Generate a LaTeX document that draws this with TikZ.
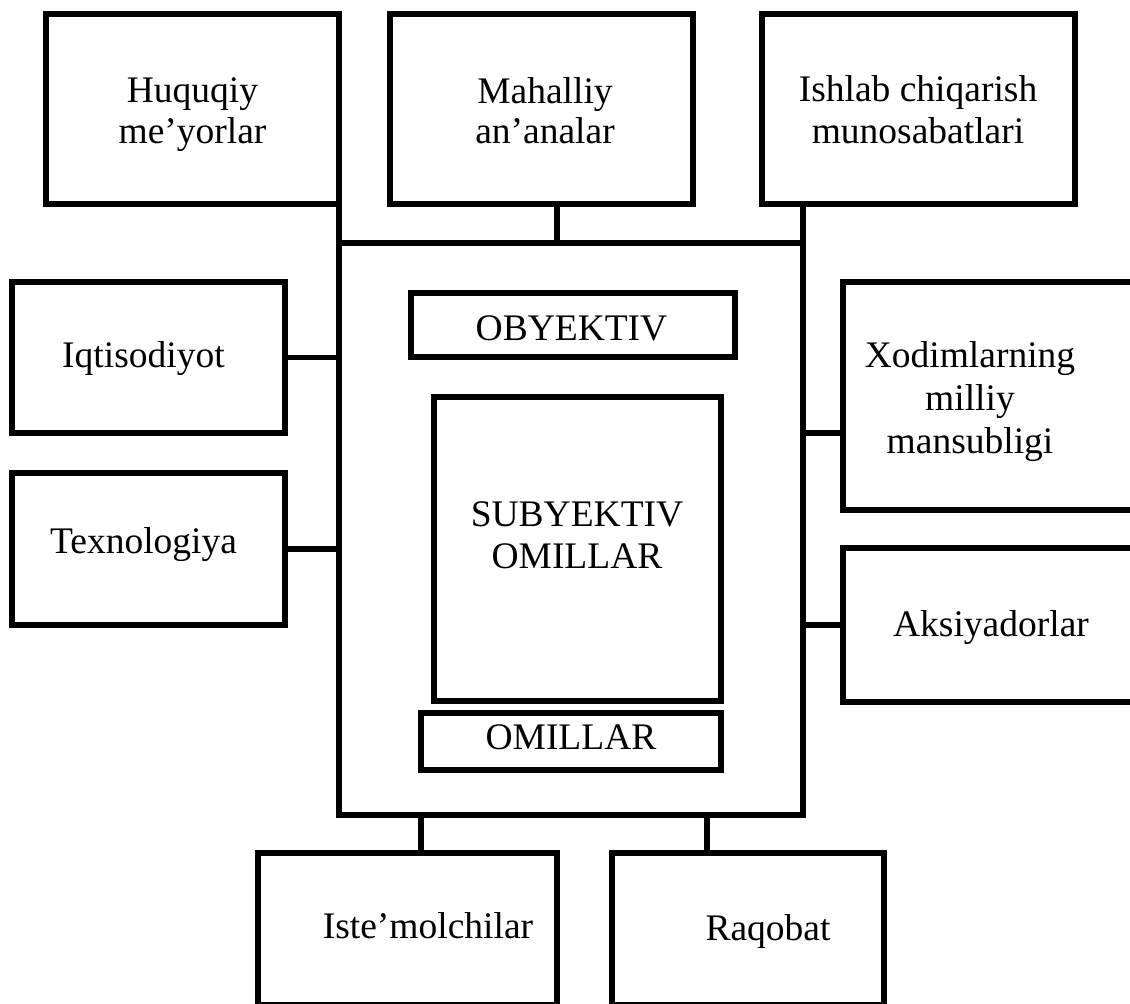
\documentclass[tikz,border=0pt]{standalone}
\usepackage{fontspec}
\setmainfont{Liberation Serif}
\begin{document}
\begin{tikzpicture}[x=1pt,y=-1pt,
  box/.style={draw, rectangle, line width=5.2pt, inner sep=0pt, outer sep=0pt},
  conn/.style={draw, line width=5.2pt},
  lbl/.style={anchor=base, inner sep=0pt, font=\fontsize{37.5}{43}\selectfont}]
\useasboundingbox (0,0) rectangle (1130,1004);
\clip (0,0) rectangle (1130,1004);
% boxes
\node[box, minimum width=293pt, minimum height=190pt] (huq) at (192.5,109) {};
\node[box, minimum width=303pt, minimum height=190pt] (mah) at (541.5,109) {};
\node[box, minimum width=313pt, minimum height=190pt] (ish) at (918.5,109) {};
\node[box, minimum width=464pt, minimum height=572pt] (big) at (571,529) {};
\node[box, minimum width=324pt, minimum height=64pt] (oby) at (573,325) {};
\node[box, minimum width=287pt, minimum height=304pt] (sub) at (577.5,549) {};
\node[box, minimum width=300pt, minimum height=57pt] (omi) at (571,741.5) {};
\node[box, minimum width=273pt, minimum height=151pt] (iqt) at (148.5,357.5) {};
\node[box, minimum width=273pt, minimum height=152pt] (tex) at (148.5,549) {};
\node[box, minimum width=297pt, minimum height=228pt] (xod) at (991.5,396) {};
\node[box, minimum width=297pt, minimum height=154pt] (aks) at (991.5,625) {};
\node[box, minimum width=299pt, minimum height=152pt] (ist) at (407.5,929) {};
\node[box, minimum width=272pt, minimum height=152pt] (raq) at (748,929) {};
% connectors
\draw[conn] (huq.south east) -- (big.north west);
\draw[conn] ([xshift=15.5pt]mah.south) -- ([xshift=15.5pt]mah.south |- big.north);
\draw[conn] (big.north east |- ish.south) -- (big.north east);
\draw[conn] (iqt.east) -- (iqt.east -| big.west);
\draw[conn] (tex.east) -- (tex.east -| big.west);
\draw[conn] ([yshift=-37pt]xod.west) -- ([yshift=-37pt]xod.west -| big.east);
\draw[conn] (aks.west) -- (aks.west -| big.east);
\draw[conn] ([xshift=13.5pt]ist.north) -- ([xshift=13.5pt]ist.north |- big.south);
\draw[conn] ([xshift=-41pt]raq.north) -- ([xshift=-41pt]raq.north |- big.south);
% labels
\node[lbl] (huqA) at (192.5,102) {Huquqiy};
\node[lbl] (huqB) at (192.5,143) {me’yorlar};
\node[lbl] (mahA) at (545,103) {Mahalliy};
\node[lbl] (mahB) at (545,143) {an’analar};
\node[lbl] (ishA) at (918,101) {Ishlab chiqarish};
\node[lbl] (ishB) at (918,143) {munosabatlari};
\node[lbl] (obyT) at (571.5,340) {OBYEKTIV};
\node[lbl] (subA) at (577,526) {SUBYEKTIV};
\node[lbl] (subB) at (577,568) {OMILLAR};
\node[lbl] (omiT) at (571,749) {OMILLAR};
\node[lbl] (iqtT) at (143.5,367) {Iqtisodiyot};
\node[lbl] (texT) at (143.5,553) {Texnologiya};
\node[lbl] (xodA) at (970,367) {Xodimlarning};
\node[lbl] (xodB) at (970,410) {milliy};
\node[lbl] (xodC) at (970,453) {mansubligi};
\node[lbl] (aksT) at (991,636) {Aksiyadorlar};
\node[lbl] (istT) at (428,938) {Iste’molchilar};
\node[lbl] (raqT) at (768,940) {Raqobat};
\end{tikzpicture}
\end{document}
